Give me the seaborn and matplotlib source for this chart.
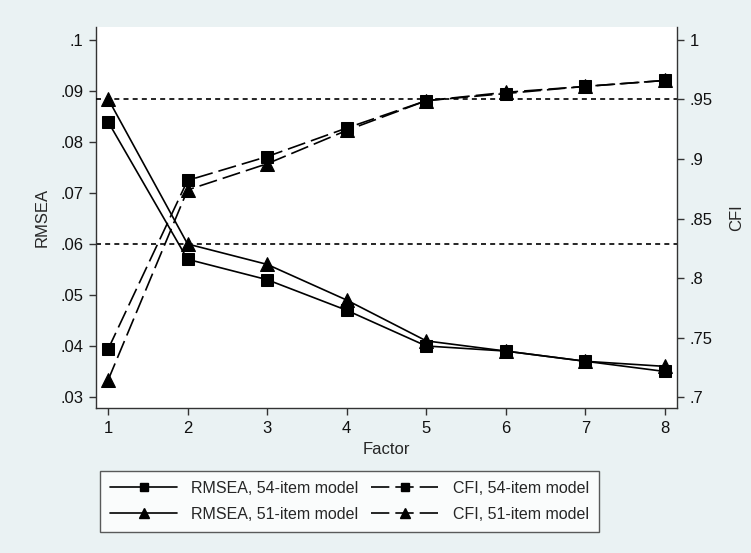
import matplotlib
matplotlib.use("Agg")
import matplotlib.pyplot as plt
import seaborn as sns
import pandas as pd
from matplotlib.lines import Line2D

factors = [1, 2, 3, 4, 5, 6, 7, 8]
rmsea_54 = [0.084, 0.057, 0.053, 0.047, 0.040, 0.039, 0.037, 0.035]
rmsea_51 = [0.0885, 0.060, 0.056, 0.049, 0.041, 0.039, 0.037, 0.036]
cfi_54 = [0.740, 0.882, 0.902, 0.926, 0.949, 0.955, 0.961, 0.966]
cfi_51 = [0.714, 0.874, 0.896, 0.924, 0.949, 0.956, 0.961, 0.966]
rmsea_ticks = [0.03, 0.04, 0.05, 0.06, 0.07, 0.08, 0.09, 0.10]
rmsea_ticklabels = [".03", ".04", ".05", ".06", ".07", ".08", ".09", ".1"]
cfi_ticks = [0.70, 0.75, 0.80, 0.85, 0.90, 0.95, 1.00]
cfi_ticklabels = [".7", ".75", ".8", ".85", ".9", ".95", "1"]
rmsea_cut = 0.06
cfi_cut = 0.95
legend_labels = ["RMSEA, 54-item model", "RMSEA, 51-item model",
                 "CFI, 54-item model", "CFI, 51-item model"]

sns.set_style("white")
plt.rcParams['font.family'] = ['Liberation Sans', 'DejaVu Sans']
plt.rcParams['font.size'] = 12

bg = "#EAF2F3"
fig = plt.figure(figsize=(7.51, 5.53), dpi=100, facecolor=bg)
ax = fig.add_axes([0.1278, 0.2622, 0.9015 - 0.1278, 0.9512 - 0.2622])
ax2 = ax.twinx()
ax.set_facecolor("white")

df = pd.DataFrame({"factor": factors, "r54": rmsea_54, "r51": rmsea_51,
                   "c54": cfi_54, "c51": cfi_51})

ms = 9
lw = 1.2
sns.lineplot(data=df, x="factor", y="r54", ax=ax, color="black", lw=lw,
             marker="s", markersize=ms, markeredgecolor="black")
sns.lineplot(data=df, x="factor", y="r51", ax=ax, color="black", lw=lw,
             marker="^", markersize=ms + 1, markeredgecolor="black")
dash = (11, 3.6)
sns.lineplot(data=df, x="factor", y="c54", ax=ax2, color="black", lw=lw,
             marker="s", markersize=ms, markeredgecolor="black")
sns.lineplot(data=df, x="factor", y="c51", ax=ax2, color="black", lw=lw,
             marker="^", markersize=ms + 1, markeredgecolor="black")
for ln in ax2.get_lines():
    ln.set_dashes(dash)

ax.axhline(rmsea_cut, color="black", lw=1.2, ls=(0, (3, 2.5)), zorder=0.5)
ax2.axhline(cfi_cut, color="black", lw=1.2, ls=(0, (3, 2.5)), zorder=0.5)

ax.set_xlim(0.849, 8.151)
ax.set_ylim(0.02784, 0.10255)
ax2.set_ylim(0.6908, 1.0109)
ax.set_xticks(factors)
ax.set_xticklabels([str(f) for f in factors])
ax.set_yticks(rmsea_ticks)
ax.set_yticklabels(rmsea_ticklabels)
ax2.set_yticks(cfi_ticks)
ax2.set_yticklabels(cfi_ticklabels)

spine_c = "#333333"
for a in (ax, ax2):
    a.spines["top"].set_visible(False)
    for s in ("left", "right", "bottom"):
        a.spines[s].set_color(spine_c)
        a.spines[s].set_linewidth(1.0)
    a.tick_params(direction="out", length=5, width=1, color=spine_c,
                  labelsize=12, labelcolor="#111111", pad=4)
ax2.spines["left"].set_visible(False)
ax.spines["right"].set_visible(False)
ax2.spines["bottom"].set_visible(False)
ax.tick_params(axis="y", left=True, right=False)
ax.tick_params(axis="x", bottom=True)

ax.set_xlabel("Factor", fontsize=12, labelpad=5)
ax.set_ylabel("RMSEA", fontsize=12, labelpad=8)
ax2.set_ylabel("CFI", fontsize=12, labelpad=12)

handles = [
    Line2D([], [], color="black", lw=lw, marker="s", markersize=6),
    Line2D([], [], color="black", lw=lw, marker="^", markersize=7),
    Line2D([], [], color="black", lw=lw, marker="s", markersize=6, dashes=dash),
    Line2D([], [], color="black", lw=lw, marker="^", markersize=7, dashes=dash),
]
leg = fig.legend(handles, legend_labels, ncol=2, loc="center",
                 bbox_to_anchor=(349.5 / 751, 1 - 501.5 / 553), frameon=True,
                 fancybox=False, edgecolor="#333333", fontsize=11.5,
                 handlelength=4.2, handletextpad=0.9, columnspacing=0.8,
                 borderpad=0.6, labelspacing=0.7)
leg.get_frame().set_linewidth(1.0)
leg.get_frame().set_facecolor("white")

fig.savefig("out.png", dpi=100, facecolor=bg)
